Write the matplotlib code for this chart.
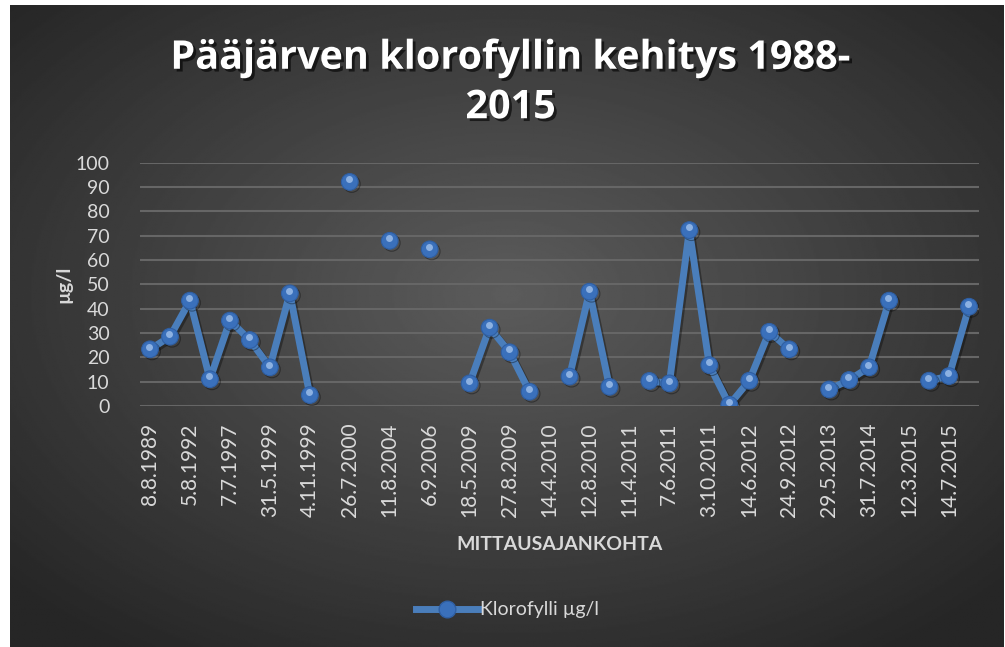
import matplotlib
matplotlib.use("Agg")
import matplotlib.pyplot as plt
import matplotlib.patheffects as pe
import matplotlib.transforms as mtransforms
from matplotlib.lines import Line2D
import numpy as np

nan = np.nan

# every second category is labelled on the axis
tick_labels = ["8.8.1989", "5.8.1992", "7.7.1997", "31.5.1999", "4.11.1999",
               "26.7.2000", "11.8.2004", "6.9.2006", "18.5.2009", "27.8.2009",
               "14.4.2010", "12.8.2010", "11.4.2011", "7.6.2011", "3.10.2011",
               "14.6.2012", "24.9.2012", "29.5.2013", "31.7.2014", "12.3.2015",
               "14.7.2015"]

klorofylli = [23.3, 28.5, 43.3, 11.0, 35.1, 27.1, 15.9, 46.3, 4.5, nan,
              92.1, nan, 67.9, nan, 64.4, nan, 9.3, 32.2, 22.1, 5.9,
              nan, 12.1, 47.0, 7.9, nan, 10.3, 9.3, 72.3, 16.8, 0.5,
              10.4, 30.5, 23.3, nan, 6.8, 10.7, 15.9, 43.3, nan, 10.4,
              12.3, 40.8]

series_name = "Klorofylli µg/l"
title = "Pääjärven klorofyllin kehitys 1988-\n2015"

txt = "#d9d9d9"
blue = "#4a7ebb"
plt.rcParams["font.family"] = ["Lato", "DejaVu Sans"]

fig = plt.figure(figsize=(10.05, 6.47), dpi=100, facecolor="white")

# radial dark gradient background
bg = fig.add_axes([10 / 1005, 0, 994 / 1005, 642 / 647], zorder=-10)
yy, xx = np.mgrid[-1:1:400j, -1:1:600j]
r = np.sqrt(xx ** 2 + (yy + 0.1) ** 2)
shade = 0.36 - (0.36 - 0.15) * np.clip(r / 1.35, 0, 1)
bg.imshow(shade, cmap="gray", vmin=0, vmax=1, aspect="auto", extent=[0, 1, 0, 1])
bg.set_axis_off()

ax = fig.add_axes([140 / 1005, 1 - 406 / 647, 839 / 1005, 243.3 / 647])
ax.set_facecolor("none")
x = np.arange(len(klorofylli))
y = np.array(klorofylli)

shadow = [pe.SimpleLineShadow(offset=(1.5, -1.5), shadow_color="black", alpha=0.35), pe.Normal()]
ax.plot(x, y, color=blue, lw=5, solid_capstyle="round", zorder=3, path_effects=shadow)
ax.plot(x, y, ls="none", marker="o", ms=12, mfc="#3a70bb", mec="#2f5fa3", mew=0.8,
        zorder=4, path_effects=shadow)
hl = mtransforms.offset_copy(ax.transData, fig=fig, x=-0.5, y=2.0, units="points")
ax.plot(x, y, ls="none", marker="o", ms=5, mfc="#a9c8f0", mec="none", alpha=0.75,
        zorder=5, transform=hl)

ax.set_xlim(-0.5, len(klorofylli) - 0.5)
ax.set_ylim(0, 100)
ax.set_yticks(np.arange(0, 101, 10))
ax.set_xticks(x[::2])
ax.set_xticklabels(tick_labels, rotation=90, va="top")
ax.grid(axis="y", color="#666666", lw=1.5)
ax.set_axisbelow(True)
for s in ax.spines.values():
    s.set_visible(False)
ax.tick_params(axis="both", length=0, colors=txt, labelsize=14)
ax.tick_params(axis="x", labelsize=15, pad=12)
ax.tick_params(axis="y", pad=22)

ax.set_ylabel("µg/l", color=txt, fontsize=14, fontweight="bold", labelpad=2)
fig.text(0.557, 1 - 545 / 647, "MITTAUSAJANKOHTA", color=txt, fontsize=14,
         fontweight="bold", ha="center", va="center")

fig.text(0.508, 1 - 83 / 647, title, color="white", fontsize=28.5, fontweight="bold",
         family=["Open Sans", "DejaVu Sans"], ha="center", va="center", linespacing=1.35,
         path_effects=[pe.SimplePatchShadow(offset=(2, -2), shadow_rgbFace="black", alpha=0.6),
                       pe.Normal()])

handle = Line2D([], [], color=blue, lw=5, marker="o", ms=12, mfc="#3a70bb", mec="#2f5fa3")
leg = fig.legend([handle], [series_name], loc="center", bbox_to_anchor=(0.505, 1 - 610 / 647),
                 frameon=False, fontsize=14, handlelength=3.2, handletextpad=0.1)
for t in leg.get_texts():
    t.set_color(txt)

fig.savefig("out.png", dpi=100, facecolor="white")
